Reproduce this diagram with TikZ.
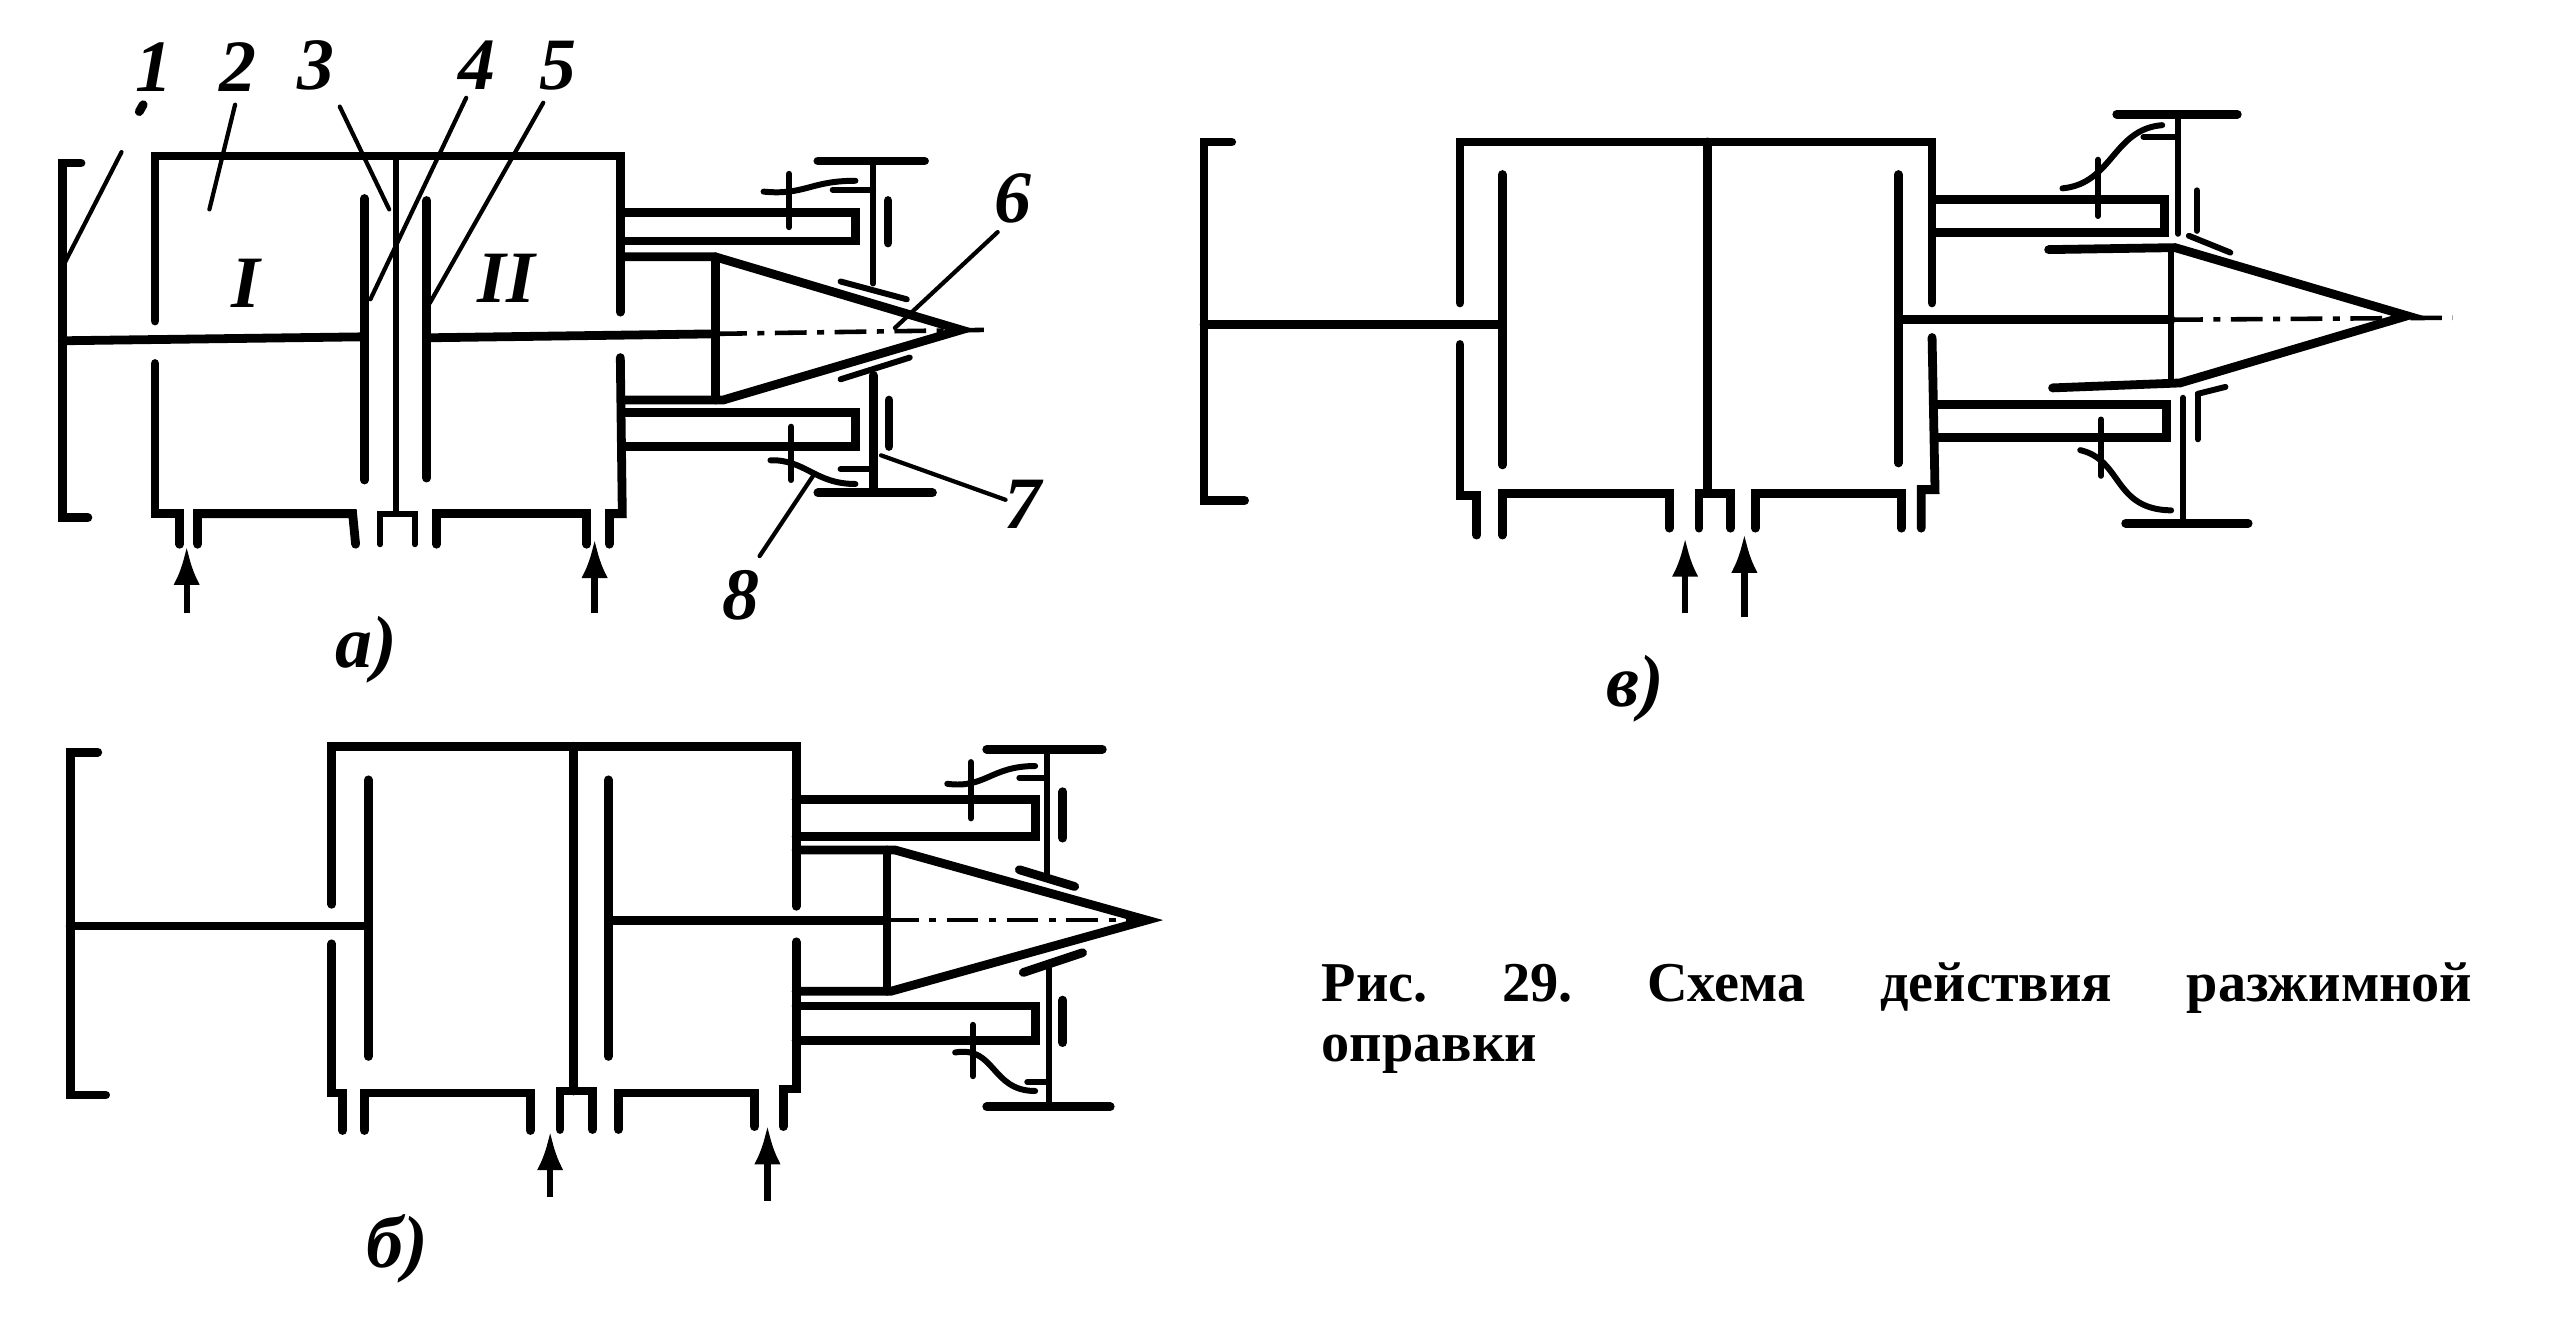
\documentclass[tikz,border=0pt]{standalone}
\usepackage{fontspec}
\setmainfont{Liberation Serif}
\usetikzlibrary{arrows.meta}

\tikzset{
  wall/.style = {line width=2.5pt, line cap=round},
  pin/.style = {line width=1.7pt, line cap=round},
  leader/.style = {line width=1.2pt, line cap=round},
  axisline/.style = {line width=1.3pt, dash pattern=on 9pt off 3pt on 2pt off 3pt},
  feed/.style = {line width=1.8pt, -{Latex[length=11pt, width=7.5pt]}},
  numlabel/.style = {inner sep=0pt, font=\fontsize{21}{21}\selectfont\bfseries\itshape},
  caption/.style = {inner sep=0pt, anchor=north west, align=left, text width=11.5cm,
    font=\fontsize{16}{17}\selectfont\bfseries},
  panel/.style = {x=0.00988cm, y=-0.00988cm}
}

\begin{document}
\begin{tikzpicture}[x=0.01cm, y=-0.01cm]
  \useasboundingbox (0,0) rectangle (2573,1328);

  % a)
  \begin{scope}[panel]
    \draw[wall] (82,165) -- (63,165) -- (63,524) -- (89,524);
    \draw[wall] (63,345) -- (368,341);
    \draw[wall] (157,325) -- (157,158) -- (628,158) -- (628,316);
    \draw[wall] (157,368) -- (157,520) -- (182,520) -- (182,551);
    \draw[wall] (200,551) -- (200,520) -- (357,520) -- (360,551);
    \draw[pin] (385,551) -- (385,520) -- (420,520) -- (420,551);
    \draw[pin] (401,158) -- (401,520);
    \draw[wall] (442,551) -- (442,520) -- (594,520) -- (594,551);
    \draw[wall] (617,551) -- (617,520) -- (630,520) -- (628,362);
    \draw[wall] (369,201) -- (369,486);
    \draw[wall] (432,203) -- (432,484);
    \draw[wall] (432,342) -- (724,338);
    \draw[axisline] (724,338) -- (996,334);
    \draw[wall] (628,215) -- (866,215) -- (866,244) -- (628,244);
    \draw[wall] (630,418) -- (866,418) -- (866,452) -- (630,452);
    \draw[wall] (632,260) -- (724,260) -- (973,334) -- (732,405) -- (632,405);
    \draw[wall] (724,260) -- (724,405);
    \draw[wall] (828,163) -- (936,163);
    \draw[pin] (884,163) -- (884,287);
    \draw[pin] (851,285) -- (918,303);
    \draw[wall] (899,203) -- (899,246);
    \draw[wall] (884,380) -- (884,497);
    \draw[wall] (828,499) -- (944,499);
    \draw[pin] (851,384) -- (921,362);
    \draw[wall] (900,405) -- (900,452);
    \draw[pin] (799,176) -- (799,230);
    \draw[pin] (773,194) .. controls (815,198) and (820,183) .. (866,183);
    \draw[pin] (843,192) -- (884,192);
    \draw[pin] (801,432) -- (801,486);
    \draw[pin] (780,466) .. controls (815,465) and (825,490) .. (866,490);
    \draw[pin] (851,475) -- (884,475);
    \draw[feed] (189,621) -- (189,553);
    \draw[feed] (602,621) -- (602,546);

    \node[numlabel] (n1) at (156,68) {1};
    \node[numlabel] (n2) at (241,68) {2};
    \node[numlabel] (n3) at (320,66) {3};
    \node[numlabel] (n4) at (483,66) {4};
    \node[numlabel] (n5) at (565,66) {5};
    \node[numlabel] (n6) at (1025,201) {6};
    \node[numlabel] (n7) at (1036,511) {7};
    \node[numlabel] (n8) at (750,603) {8};
    \node[numlabel] (n1i) at (249,287) {I};
    \node[numlabel] (n2i) at (513,282) {II};
    \node[numlabel] (capa) at (371,658) {а)};
    \coordinate (p1) at (123,154);
    \coordinate (q1) at (63,271);
    \coordinate (p2) at (238,106);
    \coordinate (q2) at (212,212);
    \coordinate (p3) at (344,108);
    \coordinate (q3) at (394,212);
    \coordinate (p4) at (472,99);
    \coordinate (q4) at (375,303);
    \coordinate (p5) at (550,104);
    \coordinate (q5) at (435,307);
    \coordinate (p6) at (1010,235);
    \coordinate (q6) at (906,332);
    \coordinate (p7) at (1018,506);
    \coordinate (q7) at (892,461);
    \coordinate (p8) at (769,563);
    \coordinate (q8) at (825,479);
    \foreach \i in {1,...,8} {
      \draw[leader] (p\i) -- (q\i);
    }
    \draw[wall] (141,113) -- (145,106);
  \end{scope}

  % v)
  \begin{scope}[panel, xshift=0.138cm, yshift=-0.007cm]
    \draw[wall] (1233,143) -- (1205,143) -- (1205,506) -- (1246,506);
    \draw[wall] (1205,328) -- (1507,328);
    \draw[wall] (1464,306) -- (1464,143) -- (1942,143) -- (1942,306);
    \draw[wall] (1464,348) -- (1464,501) -- (1481,501) -- (1481,541);
    \draw[wall] (1507,541) -- (1507,499) -- (1676,499) -- (1676,534);
    \draw[wall] (1706,534) -- (1706,499) -- (1738,499) -- (1738,534);
    \draw[wall] (1715,143) -- (1715,499);
    \draw[wall] (1763,534) -- (1763,499) -- (1911,499) -- (1911,534);
    \draw[wall] (1931,534) -- (1931,495) -- (1945,495) -- (1942,341);
    \draw[wall] (1507,176) -- (1507,470);
    \draw[wall] (1908,176) -- (1908,468);
    \draw[wall] (1911,323) -- (2184,323);
    \draw[axisline] (2184,323) -- (2469,321);
    \draw[wall] (1945,201) -- (2177,201) -- (2177,235) -- (1945,235);
    \draw[wall] (1945,409) -- (2179,409) -- (2179,442) -- (1945,442);
    \draw[wall] (2060,252) -- (2188,250) -- (2423,319) -- (2193,387) -- (2064,392);
    \draw[pin] (2184,250) -- (2184,387);
    \draw[wall] (2129,115) -- (2251,115);
    \draw[pin] (2191,115) -- (2191,236);
    \draw[pin] (2202,238) -- (2244,255);
    \draw[pin] (2210,192) -- (2210,233);
    \draw[pin] (2196,402) -- (2196,528);
    \draw[wall] (2138,529) -- (2262,529);
    \draw[pin] (2211,398) -- (2239,391);
    \draw[pin] (2211,400) -- (2211,444);
    \draw[pin] (2110,161) -- (2110,218);
    \draw[pin] (2074,190) .. controls (2125,185) and (2125,130) .. (2175,126);
    \draw[pin] (2156,138) -- (2191,138);
    \draw[pin] (2113,424) -- (2113,481);
    \draw[pin] (2092,455) .. controls (2135,465) and (2125,515) .. (2184,516);
    \draw[feed] (1692,620) -- (1692,544);
    \draw[feed] (1752,624) -- (1752,540);
    \node[numlabel] (capv) at (1642,697) {в)};
  \end{scope}

  % b)
  \begin{scope}[panel, xshift=-0.02cm, yshift=-0.084cm]
    \draw[wall] (101,753) -- (73,753) -- (73,1100) -- (109,1100);
    \draw[wall] (73,929) -- (375,929);
    \draw[wall] (338,907) -- (338,747) -- (808,747) -- (808,909);
    \draw[wall] (338,947) -- (338,1098) -- (349,1098) -- (349,1136);
    \draw[wall] (371,1136) -- (371,1098) -- (539,1098) -- (539,1136);
    \draw[wall] (569,1135) -- (569,1096) -- (602,1096) -- (602,1135);
    \draw[wall] (583,747) -- (583,1096);
    \draw[wall] (628,1135) -- (628,1098) -- (766,1098) -- (766,1132);
    \draw[wall] (795,1132) -- (795,1094) -- (808,1094) -- (808,945);
    \draw[wall] (375,781) -- (375,1061);
    \draw[wall] (618,781) -- (618,1061);
    \draw[wall] (618,923) -- (900,923);
    \draw[axisline] (900,923) -- (1167,923);
    \draw[wall] (808,801) -- (1050,801) -- (1050,838) -- (808,838);
    \draw[wall] (808,1010) -- (1050,1010) -- (1050,1045) -- (808,1045);
    \draw[wall] (808,852) -- (908,852) -- (1163,923) -- (904,995) -- (808,995);
    \draw[wall] (900,852) -- (900,995);
    \draw[wall] (1001,750) -- (1118,750);
    \draw[pin] (1062,749) -- (1062,878);
    \draw[wall] (1034,872) -- (1090,889);
    \draw[wall] (1078,793) -- (1078,840);
    \draw[pin] (1064,966) -- (1064,1110);
    \draw[wall] (1001,1112) -- (1126,1112);
    \draw[wall] (1038,976) -- (1098,956);
    \draw[wall] (1078,1004) -- (1078,1047);
    \draw[pin] (985,763) -- (985,820);
    \draw[pin] (961,785) .. controls (1000,790) and (1005,767) .. (1050,767);
    \draw[pin] (1034,779) -- (1062,779);
    \draw[pin] (987,1029) -- (987,1081);
    \draw[pin] (969,1057) .. controls (1010,1050) and (1005,1096) .. (1050,1096);
    \draw[pin] (1042,1087) -- (1064,1087);
    \draw[feed] (559,1203) -- (559,1137);
    \draw[feed] (779,1207) -- (779,1131);
    \node[numlabel] (capb) at (404,1256) {б)};
  \end{scope}

  \node[caption] (cap) at (1321,962) {Рис.\hfill 29.\hfill Схема\hfill действия\hfill разжимной\\ оправки};
\end{tikzpicture}
\end{document}
